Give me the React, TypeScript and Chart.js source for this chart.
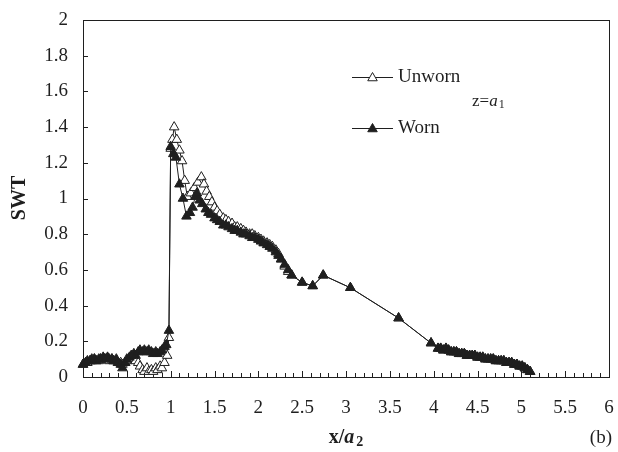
import { useEffect, useRef } from 'react';
import { Chart, registerables } from 'chart.js';

Chart.register(...registerables);

const SERIF = '"Liberation Serif", "Times New Roman", serif';
const INK = '#1f1f1f';

// ---- Data ----
const wornHeadX = [
  0.00, 0.03, 0.05, 0.08, 0.10, 0.13, 0.15, 0.18, 0.20, 0.23,
  0.25, 0.28, 0.30, 0.33, 0.35, 0.38, 0.40, 0.43, 0.45, 0.48,
  0.50, 0.53, 0.55, 0.58, 0.60, 0.63, 0.65, 0.68, 0.70, 0.73,
  0.75, 0.78, 0.80, 0.83, 0.85, 0.88, 0.90, 0.93, 0.95, 0.98,
  1.00, 1.03, 1.06, 1.10, 1.14, 1.18, 1.22, 1.25, 1.28, 1.30,
  1.33, 1.36, 1.40, 1.43, 1.46, 1.50, 1.53, 1.56, 1.60, 1.63,
  1.66, 1.70, 1.73, 1.76, 1.80, 1.83, 1.86, 1.90, 1.93, 1.96,
  2.00, 2.03, 2.06, 2.10, 2.13, 2.16, 2.20, 2.23, 2.26, 2.30,
  2.34, 2.38,
];
const wornHeadY = [
  0.07, 0.08, 0.09, 0.09, 0.10, 0.10, 0.09, 0.10, 0.10, 0.11,
  0.10, 0.11, 0.10, 0.10, 0.09, 0.10, 0.08, 0.07, 0.05, 0.08,
  0.10, 0.11, 0.12, 0.13, 0.12, 0.14, 0.15, 0.14, 0.15, 0.14,
  0.15, 0.14, 0.13, 0.14, 0.13, 0.14, 0.15, 0.17, 0.18, 0.26,
  1.29, 1.25, 1.23, 1.08, 1.00, 0.90, 0.92, 0.95, 1.01, 1.03,
  0.99, 0.97, 0.94, 0.92, 0.91, 0.89, 0.88, 0.87, 0.85, 0.85,
  0.84, 0.83, 0.82, 0.82, 0.81, 0.80, 0.80, 0.79, 0.78, 0.78,
  0.77, 0.76, 0.75, 0.74, 0.73, 0.72, 0.70, 0.68, 0.66, 0.63,
  0.60, 0.57,
];

const unwornHeadX = [
  0.00, 0.03, 0.05, 0.08, 0.10, 0.13, 0.15, 0.18, 0.20, 0.23,
  0.25, 0.28, 0.30, 0.33, 0.35, 0.38, 0.40, 0.43, 0.45, 0.48,
  0.50, 0.53, 0.55, 0.58, 0.60, 0.63, 0.65, 0.68, 0.70, 0.73,
  0.75, 0.78, 0.80, 0.83, 0.85, 0.88, 0.90, 0.93, 0.96, 0.98,
  1.00, 1.02, 1.04, 1.07, 1.10, 1.13, 1.16, 1.19, 1.23, 1.27,
  1.31, 1.35, 1.38, 1.41, 1.44, 1.47, 1.50, 1.53, 1.56, 1.60,
  1.63, 1.66, 1.70, 1.73, 1.76, 1.80, 1.83, 1.86, 1.90, 1.93,
  1.96, 2.00, 2.03, 2.06, 2.10, 2.13, 2.16, 2.20, 2.23, 2.26,
  2.30, 2.34, 2.38,
];
const unwornHeadY = [
  0.07, 0.08, 0.08, 0.09, 0.09, 0.10, 0.09, 0.09, 0.10, 0.10,
  0.10, 0.10, 0.09, 0.10, 0.09, 0.09, 0.08, 0.08, 0.07, 0.08,
  0.09, 0.10, 0.11, 0.10, 0.09, 0.08, 0.06, 0.04, 0.03, 0.05,
  0.03, 0.04, 0.03, 0.05, 0.04, 0.06, 0.05, 0.08, 0.12, 0.22,
  1.28, 1.33, 1.40, 1.33, 1.27, 1.21, 1.10, 1.01, 1.03, 1.06,
  1.09, 1.12, 1.08, 1.04, 1.01, 0.98, 0.95, 0.93, 0.91, 0.89,
  0.88, 0.87, 0.86, 0.84, 0.84, 0.83, 0.82, 0.81, 0.80, 0.80,
  0.79, 0.78, 0.77, 0.76, 0.75, 0.74, 0.73, 0.71, 0.69, 0.66,
  0.62, 0.59, 0.57,
];

// Part where both series coincide
const sharedMidX = [2.50, 2.62, 2.74, 3.05, 3.60, 3.97];
const sharedMidY = [0.53, 0.51, 0.57, 0.50, 0.33, 0.19];
const sharedTailX = [
  4.05, 4.08, 4.11, 4.14, 4.17, 4.20, 4.23, 4.26, 4.29, 4.32,
  4.35, 4.38, 4.41, 4.44, 4.47, 4.50, 4.53, 4.56, 4.59, 4.62,
  4.65, 4.68, 4.71, 4.74, 4.77, 4.80, 4.83, 4.86, 4.89, 4.92,
  4.95, 4.98, 5.01, 5.04, 5.07, 5.10,
];
const sharedTailY = [
  0.16, 0.16, 0.15, 0.16, 0.15, 0.14, 0.14, 0.14, 0.13, 0.13,
  0.13, 0.12, 0.12, 0.12, 0.12, 0.11, 0.11, 0.11, 0.10, 0.10,
  0.10, 0.10, 0.09, 0.09, 0.09, 0.09, 0.08, 0.08, 0.08, 0.07,
  0.07, 0.06, 0.06, 0.05, 0.04, 0.03,
];

const xTickLabels = ['0', '0.5', '1', '1.5', '2', '2.5', '3', '3.5', '4', '4.5', '5', '5.5', '6'];
const yTickLabels = ['0', '0.2', '0.4', '0.6', '0.8', '1', '1.2', '1.4', '1.6', '1.8', '2'];
const seriesNames = ['Unworn', 'Worn'];

const toPoints = (xs: number[], ys: number[]) => xs.map((x, i) => ({ x, y: ys[i] }));

function triangle(ctx: CanvasRenderingContext2D, x: number, y: number, r: number, fill: string) {
  ctx.beginPath();
  let rad = 0;
  for (let k = 0; k < 3; k++) {
    const px = x + Math.sin(rad) * r;
    const py = y - Math.cos(rad) * r;
    if (k === 0) ctx.moveTo(px, py); else ctx.lineTo(px, py);
    rad += (2 * Math.PI) / 3;
  }
  ctx.closePath();
  ctx.fillStyle = fill;
  ctx.fill();
  ctx.stroke();
}

const decorPlugin = {
  id: 'decor',
  beforeDatasetsDraw(chart: any) {
    const { ctx, chartArea: a, scales } = chart;
    const x = scales.x;
    const y = scales.y;
    ctx.save();
    ctx.strokeStyle = INK;
    ctx.lineWidth = 1;
    ctx.strokeRect(Math.round(a.left) + 0.5, Math.round(a.top) + 0.5, Math.round(a.right - a.left), Math.round(a.bottom - a.top));
    ctx.beginPath();
    for (let i = 1; i < 60; i++) {
      const px = Math.round(x.getPixelForValue(i / 10)) + 0.5;
      const len = i % 5 === 0 ? 6 : 4;
      ctx.moveTo(px, a.bottom);
      ctx.lineTo(px, a.bottom - len);
    }
    for (let i = 1; i < yTickLabels.length - 1; i++) {
      const py = Math.round(y.getPixelForValue(i * 0.2)) + 0.5;
      ctx.moveTo(a.left, py);
      ctx.lineTo(a.left + 5, py);
    }
    ctx.stroke();
    ctx.restore();
  },
  afterDraw(chart: any) {
    const { ctx, chartArea: a } = chart;
    ctx.save();
    ctx.fillStyle = INK;
    ctx.strokeStyle = INK;
    ctx.textBaseline = 'middle';

    // Legend inside plot
    const rows = [
      { name: seriesNames[0], y: 77, fill: '#ffffff' },
      { name: seriesNames[1], y: 128, fill: INK },
    ];
    for (const row of rows) {
      ctx.lineWidth = 1;
      ctx.beginPath();
      ctx.moveTo(352, row.y + 0.5);
      ctx.lineTo(393, row.y + 0.5);
      ctx.stroke();
      triangle(ctx, 372.5, row.y + 1, 5.5, row.fill);
      ctx.fillStyle = INK;
      ctx.font = `19px ${SERIF}`;
      ctx.textAlign = 'left';
      ctx.fillText(row.name, 398, row.y);
    }

    // z = a1 annotation
    ctx.textBaseline = 'alphabetic';
    let zx = 472;
    const zy = 106;
    ctx.font = `17px ${SERIF}`;
    ctx.fillText('z=', zx, zy);
    zx += ctx.measureText('z=').width;
    ctx.font = `italic 17px ${SERIF}`;
    ctx.fillText('a', zx, zy);
    zx += ctx.measureText('a').width + 1;
    ctx.font = `12px ${SERIF}`;
    ctx.fillText('1', zx, zy + 2);

    // Y-axis title
    ctx.save();
    ctx.translate(20, 198);
    ctx.rotate(-Math.PI / 2);
    ctx.textAlign = 'center';
    ctx.textBaseline = 'middle';
    ctx.font = `bold 20px ${SERIF}`;
    ctx.fillText('SWT', 0, 0);
    ctx.restore();

    // X-axis title: x/a2
    const parts = [
      { t: 'x/', f: `bold 20px ${SERIF}`, dy: 0 },
      { t: 'a', f: `bold italic 20px ${SERIF}`, dy: 0 },
      { t: '2', f: `bold 14px ${SERIF}`, dy: 3 },
    ];
    let total = 0;
    for (const p of parts) { ctx.font = p.f; total += ctx.measureText(p.t).width + (p.t === '2' ? 2 : 0); }
    let tx = (a.left + a.right) / 2 - total / 2;
    const ty = 443;
    ctx.textAlign = 'left';
    for (const p of parts) {
      ctx.font = p.f;
      if (p.t === '2') tx += 2;
      ctx.fillText(p.t, tx, ty + p.dy);
      tx += ctx.measureText(p.t).width;
    }

    // (b)
    ctx.font = `19px ${SERIF}`;
    ctx.textAlign = 'right';
    ctx.fillText('(b)', 612, 443);
    ctx.restore();
  },
};

export default function App() {
  const ref = useRef<HTMLCanvasElement | null>(null);

  useEffect(() => {
    if (!ref.current) return;
    const unworn = toPoints(
      [...unwornHeadX, ...sharedMidX, ...sharedTailX],
      [...unwornHeadY, ...sharedMidY, ...sharedTailY],
    );
    const worn = toPoints(
      [...wornHeadX, ...sharedMidX, ...sharedTailX],
      [...wornHeadY, ...sharedMidY, ...sharedTailY],
    );
    const tickFont = { family: SERIF, size: 19 };
    const chart = new Chart(ref.current, {
      type: 'line',
      data: {
        datasets: [
          {
            label: seriesNames[0],
            data: unworn,
            order: 1,
            borderColor: INK,
            borderWidth: 1,
            backgroundColor: '#ffffff',
            pointStyle: 'triangle',
            pointRadius: 5.5,
            pointBorderWidth: 1,
            pointBorderColor: INK,
            pointBackgroundColor: '#ffffff',
            tension: 0,
            clip: false,
          } as any,
          {
            label: seriesNames[1],
            data: worn,
            order: 0,
            borderColor: INK,
            borderWidth: 1,
            backgroundColor: INK,
            pointStyle: 'triangle',
            pointRadius: 5.5,
            pointBorderWidth: 1,
            pointBorderColor: INK,
            pointBackgroundColor: INK,
            tension: 0,
            clip: false,
          } as any,
        ],
      },
      options: {
        animation: false,
        responsive: false,
        devicePixelRatio: 1,
        layout: { padding: { left: 0, right: 9, top: 20, bottom: 0 } },
        plugins: { legend: { display: false }, tooltip: { enabled: false } },
        scales: {
          x: {
            type: 'linear',
            min: 0,
            max: 6,
            afterFit: (s: any) => {
              s.height = 75;
              s.paddingLeft = 0;
              s.paddingRight = 0;
            },
            grid: { display: false, drawTicks: false },
            border: { display: false },
            ticks: {
              stepSize: 0.5,
              padding: 20,
              font: tickFont,
              color: INK,
              maxRotation: 0,
              autoSkip: false,
              callback: (_v: any, i: number) => xTickLabels[i],
            },
          },
          y: {
            type: 'linear',
            min: 0,
            max: 2,
            afterFit: (s: any) => {
              s.width = 83;
              s.paddingTop = 0;
              s.paddingBottom = 0;
            },
            grid: { display: false, drawTicks: false },
            border: { display: false },
            ticks: {
              stepSize: 0.2,
              padding: 15,
              font: tickFont,
              color: INK,
              autoSkip: false,
              callback: (_v: any, i: number) => yTickLabels[i],
            },
          },
        },
      } as any,
      plugins: [decorPlugin],
    });
    return () => chart.destroy();
  }, []);

  return (
    <div style={{ position: 'absolute', left: 0, top: 0, width: 618, height: 452, background: '#fff' }}>
      <canvas ref={ref} width={618} height={452} style={{ display: 'block' }} />
    </div>
  );
}
